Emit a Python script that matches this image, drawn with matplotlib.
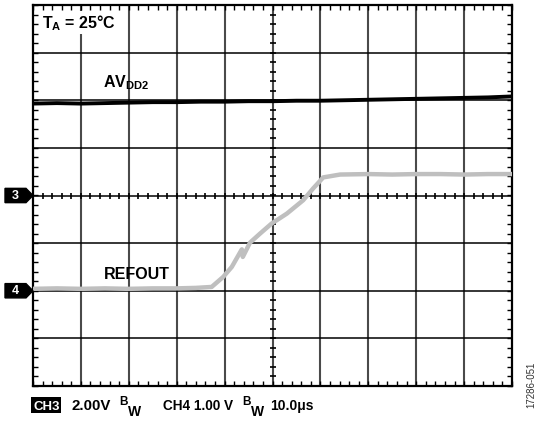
import numpy as np
import matplotlib
matplotlib.use("Agg")
import matplotlib.pyplot as plt
from matplotlib.patches import Polygon, Rectangle
from matplotlib.transforms import blended_transform_factory

plt.rcParams['font.family'] = ['Liberation Sans', 'DejaVu Sans']
plt.rcParams['mathtext.fontset'] = 'custom'
plt.rcParams['mathtext.rm'] = 'Liberation Sans:bold'
plt.rcParams['mathtext.bf'] = 'Liberation Sans:bold'
plt.rcParams['mathtext.it'] = 'Liberation Sans:bold'

# ---- data (oscilloscope divisions) ----
avdd2_t = [0, 0.5, 1.0, 1.5, 2.0, 2.5, 3.0, 3.5, 4.0, 4.5, 5.0, 5.5, 6.0, 6.5,
           7.0, 7.5, 8.0, 8.5, 9.0, 9.5, 10.0]
avdd2_v = [1.93, 1.94, 1.93, 1.94, 1.95, 1.96, 1.96, 1.97, 1.97, 1.98, 1.98, 1.99,
           1.99, 2.00, 2.01, 2.02, 2.03, 2.04, 2.05, 2.06, 2.08]

refout_t = [0, 0.5, 1.0, 1.5, 2.0, 2.5, 3.0, 3.4, 3.73, 3.97, 4.15, 4.36, 4.38,
            4.53, 4.74, 4.98, 5.30, 5.64, 5.85, 6.06, 6.41, 7.0, 7.5, 8.0, 8.5,
            9.0, 9.5, 10.0]
refout_v = [-1.96, -1.95, -1.96, -1.95, -1.96, -1.95, -1.95, -1.94, -1.92, -1.71,
            -1.50, -1.13, -1.29, -0.99, -0.80, -0.59, -0.38, -0.10, 0.15, 0.38,
            0.44, 0.45, 0.44, 0.45, 0.45, 0.44, 0.45, 0.45]

x_div = 10
y_div = 4

W, H = 542, 421
fig = plt.figure(figsize=(W / 100, H / 100), dpi=100)
L, R, T, B = 33, 512, 5, 386
ax = fig.add_axes([L / W, 1 - B / H, (R - L) / W, (B - T) / H])
ax.set_xlim(0, x_div)
ax.set_ylim(-y_div, y_div)

# grid
for xv in range(1, x_div):
    ax.axvline(xv, color='#4a4a4a', lw=1.5, zorder=1)
for yv in range(-y_div + 1, y_div):
    ax.axhline(yv, color='black', lw=1.1, zorder=1)

# center cross ticks
cx = np.arange(0, x_div + 0.01, 0.2)
cy = np.arange(-y_div, y_div + 0.01, 0.2)
ax.plot(cx, np.zeros_like(cx), ls='none', marker='|', ms=5, mew=1.2, color='black', zorder=2)
ax.plot(np.full_like(cy, x_div / 2), cy, ls='none', marker='_', ms=5, mew=1.2, color='black', zorder=2)

# border ticks
ax.set_xticks(np.arange(0, x_div + 0.01, 0.2), minor=True)
ax.set_yticks(np.arange(-y_div, y_div + 0.01, 0.2), minor=True)
ax.set_xticks([])
ax.set_yticks([])
ax.tick_params(which='minor', direction='in', length=3.5, width=1.0,
               top=True, bottom=True, left=True, right=True,
               labelbottom=False, labelleft=False)
for s in ax.spines.values():
    s.set_linewidth(1.6)
    s.set_color('black')

# traces
ax.plot(refout_t, refout_v, color='#bfbfbf', lw=3.2, zorder=3, solid_joinstyle='round')
ax.plot(avdd2_t, avdd2_v, color='black', lw=2.8, zorder=4, solid_joinstyle='round')

# labels inside
fs = 11.5
ax.text(0.19, 3.52, r"T$_\mathregular{A}$ = 25°C", fontsize=fs, fontweight='bold',
        va='baseline', ha='left', zorder=5,
        bbox=dict(facecolor='white', edgecolor='none', pad=1))
ax.text(1.47, 2.27, r"AV$_\mathregular{DD2}$", fontsize=fs, fontweight='bold',
        va='baseline', ha='left', zorder=5)
ax.text(1.47, -1.76, "REFOUT", fontsize=fs, fontweight='bold',
        va='baseline', ha='left', zorder=5)

# channel markers
btr = blended_transform_factory(fig.transFigure, ax.transData)
for lvl, lab in [(0, '3'), (-2, '4')]:
    hh = 0.15
    pts = [(5 / W, lvl + hh), (26 / W, lvl + hh), (33 / W, lvl),
           (26 / W, lvl - hh), (5 / W, lvl - hh)]
    poly = Polygon(pts, closed=True, facecolor='black', edgecolor='black',
                   transform=btr, clip_on=False)
    fig.add_artist(poly)
    fig.text(15 / W, lvl, lab, transform=btr, color='white', fontsize=9,
             fontweight='bold', ha='center', va='center')

# bottom caption
def ft(x, y, s, size=10, **kw):
    fig.text(x / W, 1 - y / H, s, fontsize=size, fontweight='bold', va='baseline',
             ha='left', **kw)

fig.add_artist(Rectangle((31 / W, 1 - 413 / H), 30 / W, 16 / H,
                         transform=fig.transFigure, facecolor='black', edgecolor='none'))
ft(33, 410, "CH3", size=9.5, color='white')
ft(72, 410, "2.00V", size=10.8)
ft(119, 405, "B", size=8.5)
ft(128, 416, "W")
ft(163, 410, "CH4 1.00 V", size=9.8)
ft(242, 405, "B", size=8.5)
ft(251, 416, "W")
ft(270, 410, "10.0μs", size=10)

fig.text(531 / W, 1 - 385 / H, "17286-051", rotation=90, fontsize=7,
         color='#333333', ha='center', va='center')

fig.savefig("out.png", dpi=100)
